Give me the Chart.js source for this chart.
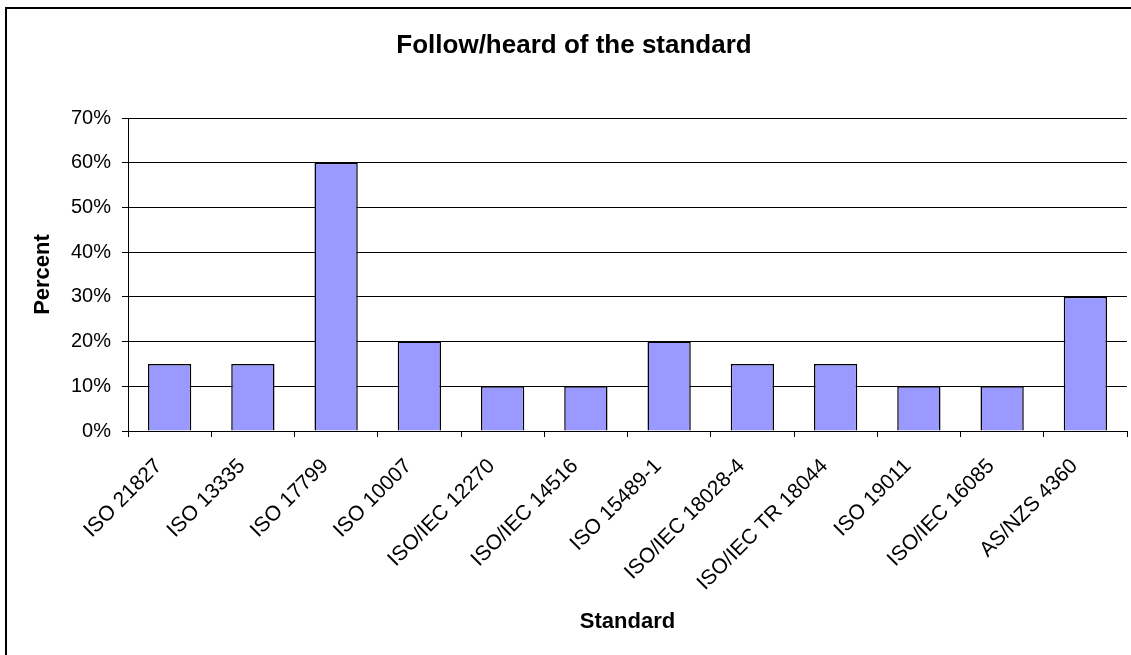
<!DOCTYPE html>
<html>
<head>
<meta charset="utf-8">
<script src="https://cdn.jsdelivr.net/npm/chart.js@4.4.1/dist/chart.umd.min.js"></script>
<style>
  html, body { margin: 0; padding: 0; background: #fff; overflow: hidden; }
  #wrap { position: relative; width: 1131px; height: 655px; }
  #frame { position: absolute; left: 5px; top: 7px; width: 1300px; height: 800px;
           border: 2px solid #000; box-sizing: border-box; pointer-events: none; }
  canvas { position: absolute; left: 0; top: 0; }
</style>
</head>
<body>
<div id="wrap">
  <div id="frame"></div>
  <canvas id="chart" width="1131" height="655"></canvas>
</div>
<script>
// Standards surveyed and the share of respondents who follow / have heard of each
const categories = [
  'ISO 21827', 'ISO 13335', 'ISO 17799', 'ISO 10007', 'ISO/IEC 12270',
  'ISO/IEC 14516', 'ISO 15489-1', 'ISO/IEC 18028-4', 'ISO/IEC TR 18044',
  'ISO 19011', 'ISO/IEC 16085', 'AS/NZS 4360'
];
const percentValues = [15, 15, 60, 20, 10, 10, 20, 15, 15, 10, 10, 30];
const yTickValues = [0, 10, 20, 30, 40, 50, 60, 70];

const FONT = '"Liberation Sans", Arial, Helvetica, sans-serif';
Chart.defaults.font.family = FONT;
Chart.defaults.color = '#000';

new Chart(document.getElementById('chart'), {
  type: 'bar',
  data: {
    labels: categories,
    datasets: [{
      label: 'Percent',
      data: percentValues,
      backgroundColor: '#9999FF',
      borderColor: '#000',
      borderWidth: 1.5,
      barPercentage: 0.52,
      categoryPercentage: 1.0
    }]
  },
  options: {
    responsive: false,
    animation: false,
    events: [],
    layout: { padding: { left: 21, right: 4, top: 0, bottom: 15 } },
    plugins: {
      legend: { display: false },
      tooltip: { enabled: false },
      title: {
        display: true,
        text: 'Follow/heard of the standard',
        color: '#000',
        font: { size: 26, weight: 'bold', family: FONT },
        padding: { top: 30.4, bottom: 56.4 }
      }
    },
    scales: {
      x: {
        afterFit(scale) { scale.height = 209; },
        grid: { drawOnChartArea: false, drawTicks: true, tickLength: 6, color: '#000', offset: true },
        border: { display: true, color: '#000', width: 1 },
        ticks: {
          minRotation: 45, maxRotation: 45, autoSkip: false,
          color: '#000', font: { size: 21, family: FONT }, padding: 17, labelOffset: -11
        },
        title: {
          display: true, text: 'Standard', color: '#000',
          font: { size: 22, weight: 'bold', family: FONT },
          padding: { top: 4, bottom: 4.8 }
        }
      },
      y: {
        min: 0, max: 70,
        afterFit(scale) { scale.width = 107; },
        afterBuildTicks(scale) { scale.ticks = yTickValues.map(v => ({ value: v })); },
        grid: { color: '#000', lineWidth: 1, drawTicks: true, tickLength: 6 },
        border: { display: true, color: '#000', width: 1 },
        ticks: {
          color: '#000', font: { size: 20, family: FONT }, padding: 11,
          callback: v => v + '%'
        },
        title: {
          display: true, text: 'Percent', color: '#000',
          font: { size: 22, weight: 'bold', family: FONT },
          padding: { top: 8.8, bottom: 4 }
        }
      }
    }
  }
});
</script>
</body>
</html>
